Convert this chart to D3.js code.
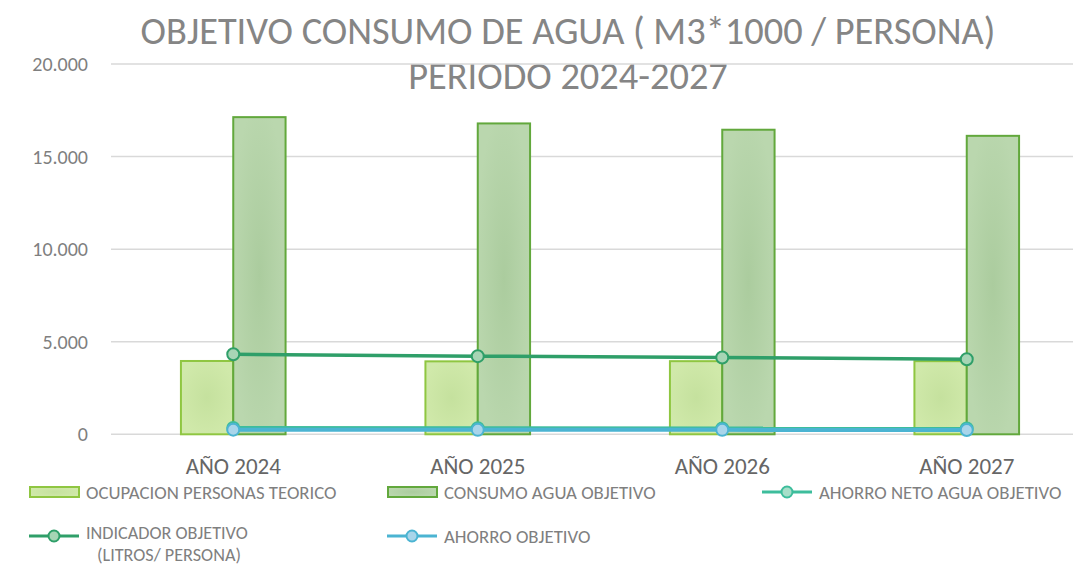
<!DOCTYPE html>
<html>
<head>
<meta charset="utf-8">
<script src="https://cdn.jsdelivr.net/npm/d3@7"></script>
<style>
  html, body { margin: 0; padding: 0; background: #fff; }
  svg { display: block; }
  text { font-family: Carlito, Calibri, Lato, sans-serif; }
</style>
</head>
<body>
<svg id="chart" width="1073" height="567"></svg>
<script>
// Water consumption targets 2024-2027
const categories = ["AÑO 2024", "AÑO 2025", "AÑO 2026", "AÑO 2027"];
const ocupacionPersonas = [3960, 3940, 3950, 3950];
const consumoAgua = [17130, 16790, 16450, 16120];
const ahorroNeto = [340, 330, 320, 310];
const indicadorObjetivo = [4320, 4220, 4150, 4050];
const ahorroObjetivo = [250, 240, 240, 230];
const yTicks = [0, 5000, 10000, 15000, 20000];
const titleLines = ["OBJETIVO CONSUMO DE AGUA ( M3*1000 / PERSONA)", "PERIODO 2024-2027"];

const svg = d3.select("#chart");
const esLocale = d3.formatLocale({ decimal: ",", thousands: ".", grouping: [3], currency: ["", ""] });
const fmt = esLocale.format(",");

const plot = { left: 111, right: 1089, top: 64, bottom: 434.3 };

const x0 = d3.scaleBand().domain(categories)
  .range([plot.left, plot.right]).paddingInner(0.572).paddingOuter(0.286);
const barSeries = ["ocup", "cons"];
const x1 = d3.scaleBand().domain(barSeries).range([0, x0.bandwidth()]).padding(0);
const y = d3.scaleLinear().domain([0, 20000]).range([plot.bottom, plot.top]);

// soft radial fills for the bars
const defs = svg.append("defs");
function radial(id, inner, outer) {
  const g = defs.append("radialGradient").attr("id", id)
    .attr("cx", "50%").attr("cy", "50%").attr("r", "55%");
  g.append("stop").attr("offset", "0%").attr("stop-color", inner);
  g.append("stop").attr("offset", "100%").attr("stop-color", outer);
}
radial("gOcup", "#c5e19e", "#d0e9aa");
radial("gCons", "#abcc9e", "#bad7ae");

// title
svg.append("g").selectAll("text").data(titleLines).join("text")
  .attr("x", 568).attr("y", (d, i) => 44 + i * 45)
  .attr("text-anchor", "middle")
  .attr("fill", "#858585").attr("font-size", 38.4)
  .text(d => d);

// gridlines + y labels
const yAxis = svg.append("g");
yAxis.selectAll("line").data(yTicks).join("line")
  .attr("x1", plot.left).attr("x2", plot.right)
  .attr("y1", d => y(d)).attr("y2", d => y(d))
  .attr("stroke", "#d9d9d9").attr("stroke-width", 1.5);
yAxis.selectAll("text").data(yTicks).join("text")
  .attr("x", 88).attr("y", d => y(d))
  .attr("dy", "0.35em").attr("text-anchor", "end")
  .attr("fill", "#7f7f7f").attr("font-size", 20)
  .text(d => fmt(d));

// bars
const bars = svg.append("g");
const barData = categories.map((c, i) => [
  { c, key: "ocup", v: ocupacionPersonas[i] },
  { c, key: "cons", v: consumoAgua[i] }
]).flat();
bars.selectAll("rect").data(barData).join("rect")
  .attr("x", d => x0(d.c) + x1(d.key))
  .attr("width", x1.bandwidth())
  .attr("y", d => y(d.v))
  .attr("height", d => y(0) - y(d.v))
  .attr("fill", d => d.key === "ocup" ? "url(#gOcup)" : "url(#gCons)")
  .attr("stroke", d => d.key === "ocup" ? "#8fc641" : "#62a83c")
  .attr("stroke-width", 2);

// x labels
svg.append("g").selectAll("text").data(categories).join("text")
  .attr("x", d => x0(d) + x0.bandwidth() / 2).attr("y", 466)
  .attr("dy", "0.35em").attr("text-anchor", "middle")
  .attr("fill", "#666666").attr("font-size", 23)
  .text(d => d);

// lines
const lineSeries = [
  { name: "neto", values: ahorroNeto, stroke: "#3dbd9c", fill: "#a7dfc9", width: 4 },
  { name: "indicador", values: indicadorObjetivo, stroke: "#2f9f69", fill: "#a7d5b5", width: 3.5 },
  { name: "ahorro", values: ahorroObjetivo, stroke: "#4bb4d2", fill: "#a9d5ea", width: 4 }
];
const cx = c => x0(c) + x0.bandwidth() / 2;
const line = d3.line().x(d => cx(d.c)).y(d => y(d.v));
lineSeries.forEach(s => {
  const pts = categories.map((c, i) => ({ c, v: s.values[i] }));
  const g = svg.append("g");
  g.append("path").datum(pts).attr("d", line)
    .attr("fill", "none").attr("stroke", s.stroke).attr("stroke-width", s.width);
  g.selectAll("circle").data(pts).join("circle")
    .attr("cx", d => cx(d.c)).attr("cy", d => y(d.v)).attr("r", 6)
    .attr("fill", s.fill).attr("stroke", s.stroke).attr("stroke-width", 2);
});

// legend
const legend = svg.append("g").attr("font-size", 18.8).attr("fill", "#7f7f7f");
function legendBar(x, yy, fill, stroke, label) {
  legend.append("rect").attr("x", x).attr("y", yy - 5).attr("width", 49).attr("height", 10)
    .attr("fill", fill).attr("stroke", stroke).attr("stroke-width", 2);
  legend.append("text").attr("x", x + 56).attr("y", yy).attr("dy", "0.35em").attr("fill", "#7f7f7f").text(label);
}
function legendLine(x, yy, s, labels) {
  legend.append("line").attr("x1", x).attr("x2", x + 50).attr("y1", yy).attr("y2", yy)
    .attr("stroke", s.stroke).attr("stroke-width", 3);
  legend.append("circle").attr("cx", x + 25).attr("cy", yy).attr("r", 5.5)
    .attr("fill", s.fill).attr("stroke", s.stroke).attr("stroke-width", 2);
  const first = labels.length > 1 ? yy - 3 : yy;
  labels.forEach((l, i) => {
    legend.append("text").attr("x", x + 57 + (i ? 11 : 0)).attr("y", first + i * 22)
      .attr("dy", "0.35em").attr("fill", "#7f7f7f")
      .attr("font-size", labels.length > 1 ? 18.2 : null).text(l);
  });
}
legendBar(30, 492, "url(#gOcup)", "#8fc641", "OCUPACION PERSONAS TEORICO");
legendBar(388, 492, "url(#gCons)", "#62a83c", "CONSUMO AGUA OBJETIVO");
legendLine(762, 492, lineSeries[0], ["AHORRO NETO AGUA OBJETIVO"]);
legendLine(29, 536, lineSeries[1], ["INDICADOR OBJETIVO", "(LITROS/ PERSONA)"]);
legendLine(387, 536, lineSeries[2], ["AHORRO OBJETIVO"]);
</script>
</body>
</html>
